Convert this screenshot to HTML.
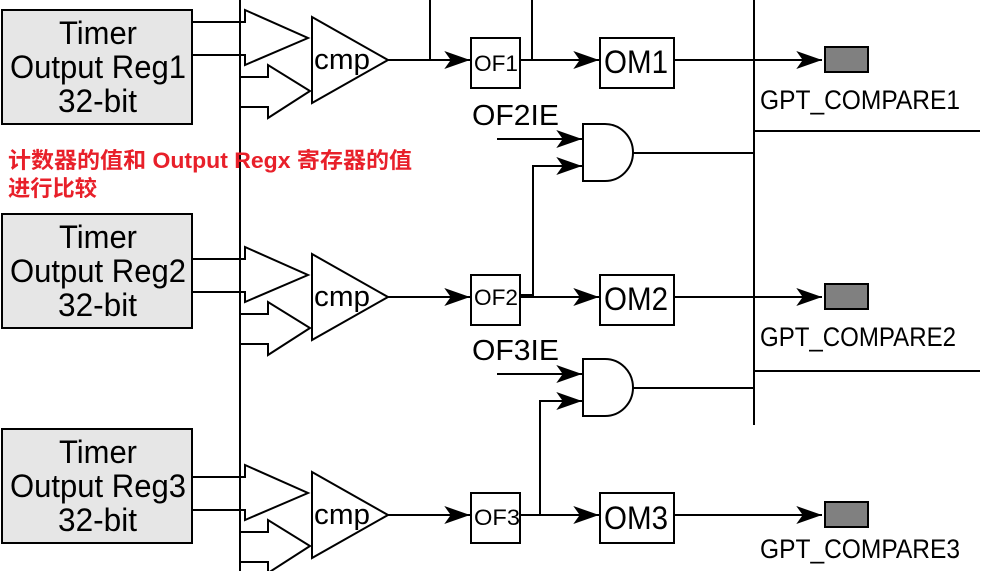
<!DOCTYPE html>
<html><head><meta charset="utf-8"><style>
html,body{margin:0;padding:0;background:#fff;}
svg{display:block;}
text{font-family:"Liberation Sans",Arial,sans-serif;fill:#000;}
.r{font-family:"Liberation Sans","Noto Sans CJK SC",sans-serif;fill:#e8202a;font-weight:bold;}
</style></head><body>
<svg width="988" height="571" viewBox="0 0 988 571" xmlns="http://www.w3.org/2000/svg">
<defs>
<marker id="a" viewBox="0 0 20 14" refX="20" refY="7" markerWidth="26" markerHeight="18" markerUnits="userSpaceOnUse" orient="auto">
<path d="M0,0 L20,7 L0,14 L5,7 Z" fill="#000"/></marker>
<g id="row" fill="none" stroke="#000" stroke-width="2">
  <line x1="192" y1="22" x2="240" y2="22"/>
  <line x1="192" y1="55" x2="240" y2="55"/>
  <polyline points="240,22 245,22 245,10 308,38 245,65 245,55 240,55"/>
  <polyline points="240,77 268,77 268,65 310,91 268,118 268,107 240,107"/>
  <polygon points="312,17 388,60 312,103"/>
  <line x1="388" y1="60" x2="470" y2="60" marker-end="url(#a)"/>
  <rect x="471" y="38" width="49" height="50"/>
  <line x1="520" y1="60" x2="599" y2="60" marker-end="url(#a)"/>
  <rect x="600" y="38" width="74" height="50"/>
  <line x1="674" y1="60" x2="822" y2="60" marker-end="url(#a)"/>
  <rect x="825" y="47" width="43" height="25" fill="#808080"/>
</g>
<g id="gate" fill="none" stroke="#000" stroke-width="2">
  <line x1="497" y1="139" x2="582" y2="139" marker-end="url(#a)"/>
  <path d="M583,124 L605,124 A28,28.5 0 0 1 605,181 L583,181 Z"/>
  <line x1="632" y1="153" x2="754" y2="153"/>
</g>
</defs>

<g fill="#e6e6e6" stroke="#000" stroke-width="2">
<rect x="2" y="10" width="190" height="114"/>
<rect x="2" y="214" width="190" height="114"/>
<rect x="2" y="429" width="190" height="114"/>
</g>
<g style="font-size:32px">
<text x="59" y="44" textLength="78" lengthAdjust="spacingAndGlyphs">Timer</text>
<text x="10" y="78" textLength="176" lengthAdjust="spacingAndGlyphs">Output Reg1</text>
<text x="58" y="112" textLength="79" lengthAdjust="spacingAndGlyphs">32-bit</text>
<text x="59" y="248" textLength="78" lengthAdjust="spacingAndGlyphs">Timer</text>
<text x="10" y="282" textLength="176" lengthAdjust="spacingAndGlyphs">Output Reg2</text>
<text x="58" y="316" textLength="79" lengthAdjust="spacingAndGlyphs">32-bit</text>
<text x="59" y="463" textLength="78" lengthAdjust="spacingAndGlyphs">Timer</text>
<text x="10" y="497" textLength="176" lengthAdjust="spacingAndGlyphs">Output Reg3</text>
<text x="58" y="531" textLength="79" lengthAdjust="spacingAndGlyphs">32-bit</text>
</g>

<line x1="240" y1="0" x2="240" y2="571" stroke="#000" stroke-width="2"/>
<line x1="754" y1="0" x2="754" y2="425" stroke="#000" stroke-width="2"/>
<line x1="754" y1="131" x2="980" y2="131" stroke="#000" stroke-width="2"/>
<line x1="754" y1="371" x2="980" y2="371" stroke="#000" stroke-width="2"/>
<line x1="430" y1="0" x2="430" y2="60" stroke="#000" stroke-width="2"/>
<line x1="532" y1="0" x2="532" y2="60" stroke="#000" stroke-width="2"/>

<use href="#row"/>
<use href="#row" y="237"/>
<use href="#row" y="455"/>

<use href="#gate"/>
<use href="#gate" y="235"/>
<polyline points="520,295 533,295 533,166 582,166" fill="none" stroke="#000" stroke-width="2" marker-end="url(#a)"/>
<polyline points="522,515 540,515 540,401 582,401" fill="none" stroke="#000" stroke-width="2" marker-end="url(#a)"/>

<g style="font-size:29px">
<text x="314" y="69" textLength="56" lengthAdjust="spacingAndGlyphs">cmp</text>
<text x="314" y="306" textLength="56" lengthAdjust="spacingAndGlyphs">cmp</text>
<text x="314" y="524" textLength="56" lengthAdjust="spacingAndGlyphs">cmp</text>
</g>
<g style="font-size:22px">
<text x="474" y="71" textLength="44" lengthAdjust="spacingAndGlyphs">OF1</text>
<text x="474" y="305" textLength="44" lengthAdjust="spacingAndGlyphs">OF2</text>
<text x="474" y="525" textLength="46" lengthAdjust="spacingAndGlyphs">OF3</text>
</g>
<g style="font-size:32px">
<text x="604" y="73" textLength="64" lengthAdjust="spacingAndGlyphs">OM1</text>
<text x="604" y="310" textLength="64" lengthAdjust="spacingAndGlyphs">OM2</text>
<text x="604" y="529" textLength="64" lengthAdjust="spacingAndGlyphs">OM3</text>
</g>
<g style="font-size:29px">
<text x="472" y="125" textLength="87" lengthAdjust="spacingAndGlyphs">OF2IE</text>
<text x="472" y="360" textLength="87" lengthAdjust="spacingAndGlyphs">OF3IE</text>
</g>
<g style="font-size:27px">
<text x="760" y="109" textLength="200" lengthAdjust="spacingAndGlyphs">GPT_COMPARE1</text>
<text x="760" y="346" textLength="196" lengthAdjust="spacingAndGlyphs">GPT_COMPARE2</text>
<text x="760" y="558" textLength="200" lengthAdjust="spacingAndGlyphs">GPT_COMPARE3</text>
</g>
<text class="r" x="8" y="168" style="font-size:22px" textLength="404" lengthAdjust="spacingAndGlyphs">计数器的值和 Output Regx 寄存器的值</text>
<text class="r" x="8" y="196" style="font-size:22px" textLength="89" lengthAdjust="spacingAndGlyphs">进行比较</text>
</svg>
</body></html>
